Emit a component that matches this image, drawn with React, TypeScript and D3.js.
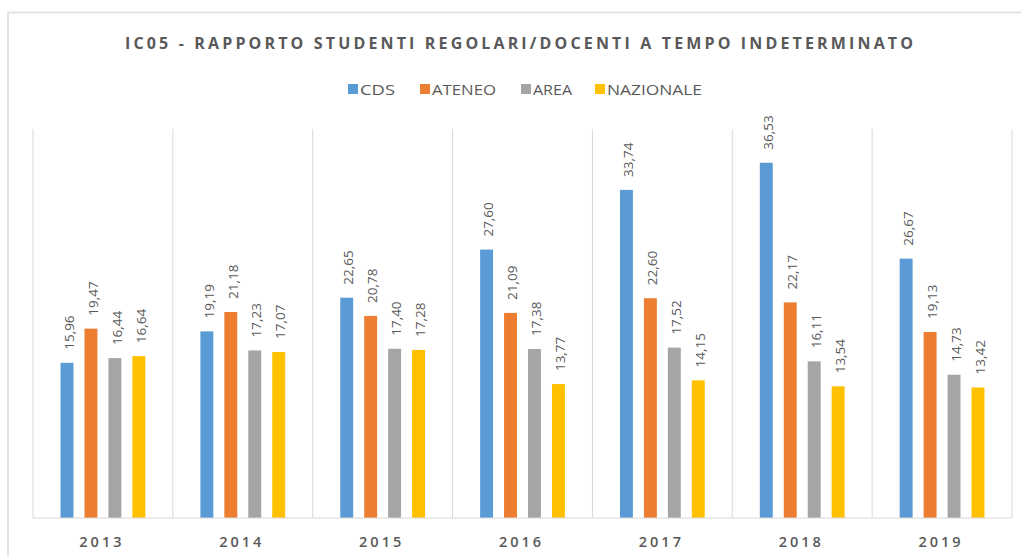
import React from "react";
import * as d3 from "d3";

const years = ["2013", "2014", "2015", "2016", "2017", "2018", "2019"];
const seriesNames = ["CDS", "ATENEO", "AREA", "NAZIONALE"];
const cds = [15.96, 19.19, 22.65, 27.6, 33.74, 36.53, 26.67];
const ateneo = [19.47, 21.18, 20.78, 21.09, 22.6, 22.17, 19.13];
const area = [16.44, 17.23, 17.4, 17.38, 17.52, 16.11, 14.73];
const nazionale = [16.64, 17.07, 17.28, 13.77, 14.15, 13.54, 13.42];
const colors = ["#5B9BD5", "#ED7D31", "#A5A5A5", "#FFC000"];
const title = "IC05 - RAPPORTO STUDENTI REGOLARI/DOCENTI A TEMPO INDETERMINATO";

const seriesValues = [cds, ateneo, area, nazionale];

const W = 1021;
const H = 556;
const plotLeft = 33;
const plotRight = 1012;
const plotTop = 129;
const plotBottom = 518;

const fmt = (v: number) => v.toFixed(2).replace(".", ",");

export default function App() {
  const x0 = d3.scaleBand<string>().domain(years).range([plotLeft, plotRight]).padding(0);
  const x1 = d3
    .scaleBand<string>()
    .domain(seriesNames)
    .range([0, x0.bandwidth()])
    .paddingInner(0.46)
    .paddingOuter(1.15);
  const y = d3.scaleLinear().domain([0, 40]).range([plotBottom, plotTop]);

  const legendItems = [
    { name: "CDS", sx: 348, tx: 360, tl: 35 },
    { name: "ATENEO", sx: 420, tx: 432, tl: 64 },
    { name: "AREA", sx: 521, tx: 533, tl: 39 },
    { name: "NAZIONALE", sx: 595, tx: 607, tl: 95 },
  ];

  const gridColor = "#d9d9d9";
  const textColor = "#595959";
  const boundaries = [...years.map((yr) => x0(yr) as number), plotRight];

  return (
    <svg
      width={W}
      height={H}
      style={{ position: "absolute", left: 0, top: 0, background: "#fff" }}
    >
      <rect x={0} y={0} width={W} height={H} fill="#fff" />
      {/* outer chart border */}
      <path d={`M8,${H + 5} L8,12.5 L${W + 5},12.5`} fill="none" stroke="#e3e3e3" strokeWidth={2} />

      {/* title */}
      <text
        x={519}
        y={48.5}
        textAnchor="middle"
        fontFamily="'Open Sans', 'Noto Sans', sans-serif"
        fontWeight={700}
        fontSize={16}
        fill={textColor}
        textLength={788}
        lengthAdjust="spacing"
      >
        {title}
      </text>

      {/* legend */}
      {legendItems.map((it, i) => (
        <g key={it.name}>
          <rect x={it.sx} y={84} width={10} height={10} fill={colors[i]} />
          <text
            x={it.tx}
            y={94.5}
            fontFamily="'Open Sans', 'Noto Sans', sans-serif"
            fontSize={15}
            fill={textColor}
            textLength={it.tl}
            lengthAdjust="spacingAndGlyphs"
          >
            {it.name}
          </text>
        </g>
      ))}

      {/* category separators */}
      {boundaries.map((bx, i) => (
        <line key={i} x1={bx} x2={bx} y1={plotTop} y2={plotBottom} stroke={gridColor} strokeWidth={1} />
      ))}

      {/* bars */}
      {years.map((yr, yi) => (
        <g key={yr} transform={`translate(${x0(yr)},0)`}>
          {seriesNames.map((s, si) => {
            const v = seriesValues[si][yi];
            const bx = x1(s) as number;
            const by = y(v);
            const cx = bx + x1.bandwidth() / 2 + 2;
            const ly = by - 13;
            return (
              <g key={s}>
                <rect x={bx} y={by} width={x1.bandwidth()} height={plotBottom - by} fill={colors[si]} />
                <text
                  transform={`translate(${cx},${ly}) rotate(-90)`}
                  dy="0.35em"
                  textAnchor="start"
                  fontFamily="'Open Sans', 'Noto Sans', sans-serif"
                  fontSize={13.5}
                  fill={textColor}
                >
                  {fmt(v)}
                </text>
              </g>
            );
          })}
        </g>
      ))}

      {/* baseline */}
      <line x1={plotLeft} x2={plotRight} y1={plotBottom} y2={plotBottom} stroke={gridColor} strokeWidth={1} />

      {/* x labels */}
      {years.map((yr) => (
        <text
          key={yr}
          x={(x0(yr) as number) + x0.bandwidth() / 2 - 1}
          y={547}
          textAnchor="middle"
          fontFamily="'Open Sans', 'Noto Sans', sans-serif"
          fontWeight={600}
          fontSize={14.5}
          fill={textColor}
          letterSpacing={3}
        >
          {yr}
        </text>
      ))}
    </svg>
  );
}
